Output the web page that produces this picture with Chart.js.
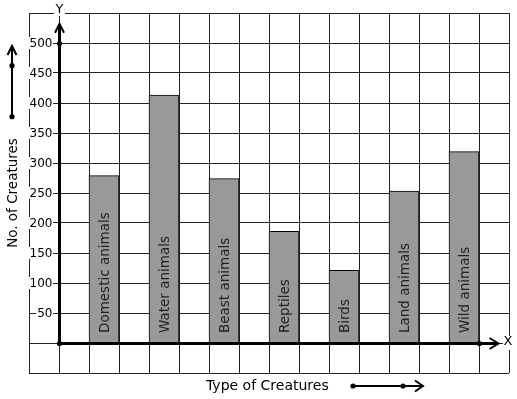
<!DOCTYPE html>
<html>
<head>
<meta charset="utf-8">
<script src="https://cdn.jsdelivr.net/npm/chart.js@4/dist/chart.umd.min.js"></script>
<style>
html,body{margin:0;padding:0;background:#fff}
#wrap{width:517px;height:399px;position:relative}
</style>
</head>
<body>
<div id="wrap"><canvas id="c"></canvas></div>
<script>
const categories = ['Domestic animals', 'Water animals', 'Beast animals', 'Reptiles', 'Birds', 'Land animals', 'Wild animals'];
const creatureCounts = [279, 413, 274, 186, 121, 253, 319];
const yTickLabels = [50, 100, 150, 200, 250, 300, 350, 400, 450, 500];
const xAxisTitle = 'Type of Creatures';
const yAxisTitle = 'No. of Creatures';
const xAxisName = 'X';
const yAxisName = 'Y';

const FONT = "'DejaVu Sans', sans-serif";

function arrowHead(ctx, tipX, tipY, dir, len, spread) {
  ctx.beginPath();
  if (dir === 'up') {
    ctx.moveTo(tipX - spread, tipY + len);
    ctx.lineTo(tipX, tipY);
    ctx.lineTo(tipX + spread, tipY + len);
  } else {
    ctx.moveTo(tipX - len, tipY - spread);
    ctx.lineTo(tipX, tipY);
    ctx.lineTo(tipX - len, tipY + spread);
  }
  ctx.stroke();
}
function dot(ctx, x, y, r) {
  ctx.beginPath();
  ctx.arc(x, y, r, 0, Math.PI * 2);
  ctx.fill();
}

const decor = {
  id: 'decor',
  afterDatasetsDraw(chart) {
    const {ctx, scales: {x, y}, chartArea: ca} = chart;
    const ax = Math.round(x.getPixelForValue(0)) + 0.5;
    const ay = Math.round(y.getPixelForValue(0)) + 0.5;
    ctx.save();

    // bar labels (rotated, inside bars)
    ctx.fillStyle = '#222';
    ctx.font = '13.5px ' + FONT;
    ctx.textAlign = 'left';
    ctx.textBaseline = 'alphabetic';
    const meta = chart.getDatasetMeta(0);
    meta.data.forEach((bar, i) => {
      ctx.save();
      ctx.translate(bar.x + 4.5, ay - 10.5);
      ctx.rotate(-Math.PI / 2);
      ctx.fillText(categories[i], 0, 0);
      ctx.restore();
    });

    // y tick labels with white backdrop
    ctx.font = '12px ' + FONT;
    ctx.textAlign = 'right';
    ctx.textBaseline = 'middle';
    yTickLabels.forEach(v => {
      const py = y.getPixelForValue(v);
      const t = String(v);
      const w = ctx.measureText(t).width;
      const rx = ax - 7;
      ctx.fillStyle = '#fff';
      ctx.fillRect(rx - w - 1, py - 6, w + 1.5, 12);
      ctx.fillStyle = '#000';
      ctx.fillText(t, rx, py + 0.5);
    });

    // axes
    ctx.strokeStyle = '#000';
    ctx.fillStyle = '#000';
    ctx.lineWidth = 3;
    const yTip = y.getPixelForValue(532);
    const xTip = x.getPixelForValue(14.65);
    ctx.beginPath();
    ctx.moveTo(ax, ay);
    ctx.lineTo(ax, yTip + 1);
    ctx.stroke();
    ctx.beginPath();
    ctx.moveTo(ax, ay);
    ctx.lineTo(xTip - 1, ay);
    ctx.stroke();
    ctx.lineWidth = 2;
    arrowHead(ctx, ax, yTip, 'up', 9, 4.5);
    arrowHead(ctx, xTip, ay, 'right', 9, 5.5);
    dot(ctx, ax, ay, 2.6);
    dot(ctx, ax, Math.round(y.getPixelForValue(500)) + 0.5, 2.6);
    dot(ctx, Math.round(x.getPixelForValue(14)) + 0.5, ay, 2.6);

    // axis names
    ctx.font = '13px ' + FONT;
    ctx.textAlign = 'center';
    ctx.textBaseline = 'middle';
    ctx.fillStyle = '#fff';
    ctx.fillRect(ax - 5.5, ca.top - 9, 11, 12);
    ctx.fillRect(ca.right - 6, ay - 7.5, 12, 14);
    ctx.fillStyle = '#000';
    ctx.fillText(yAxisName, ax, ca.top - 3);
    ctx.fillText(xAxisName, ca.right - 1, ay - 2);

    // x axis title + arrow
    ctx.font = '14px ' + FONT;
    ctx.textAlign = 'left';
    ctx.textBaseline = 'alphabetic';
    ctx.fillText(xAxisTitle, 206, 389.5);
    ctx.lineWidth = 2;
    ctx.beginPath();
    ctx.moveTo(353, 386);
    ctx.lineTo(423, 386);
    ctx.stroke();
    arrowHead(ctx, 423, 386, 'right', 8, 5.5);
    dot(ctx, 353, 386, 2.6);
    dot(ctx, 403, 386, 2.6);

    // y axis title + arrow
    ctx.save();
    ctx.font = '13.5px ' + FONT;
    ctx.translate(17, 193);
    ctx.rotate(-Math.PI / 2);
    ctx.textAlign = 'center';
    ctx.fillText(yAxisTitle, 0, 0);
    ctx.restore();
    ctx.beginPath();
    ctx.moveTo(12, 116.7);
    ctx.lineTo(12, 46);
    ctx.stroke();
    arrowHead(ctx, 12, 46, 'up', 9, 4.5);
    dot(ctx, 12, 116.7, 2.6);
    dot(ctx, 12, 65.7, 2.6);

    ctx.restore();
  }
};

new Chart(document.getElementById('c'), {
  type: 'bar',
  data: {
    datasets: [{
      data: categories.map((c, i) => ({x: 2 * i + 1.5, y: creatureCounts[i]})),
      backgroundColor: '#999999',
      borderColor: '#000',
      borderWidth: 1,
      borderSkipped: 'bottom',
      barThickness: 30
    }]
  },
  options: {
    responsive: true,
    maintainAspectRatio: false,
    animation: false,
    events: [],
    layout: {padding: {left: 29, top: 13, right: 8, bottom: 26}},
    plugins: {legend: {display: false}, tooltip: {enabled: false}},
    scales: {
      x: {
        type: 'linear',
        offset: false,
        min: -1, max: 15,
        ticks: {display: false, stepSize: 1},
        grid: {color: '#222', lineWidth: 1, drawTicks: false, offset: false},
        border: {display: false}
      },
      y: {
        type: 'linear',
        min: -50, max: 550,
        ticks: {display: false, stepSize: 50},
        grid: {color: '#222', lineWidth: 1, drawTicks: false},
        border: {display: false}
      }
    }
  },
  plugins: [decor]
});
</script>
</body>
</html>
